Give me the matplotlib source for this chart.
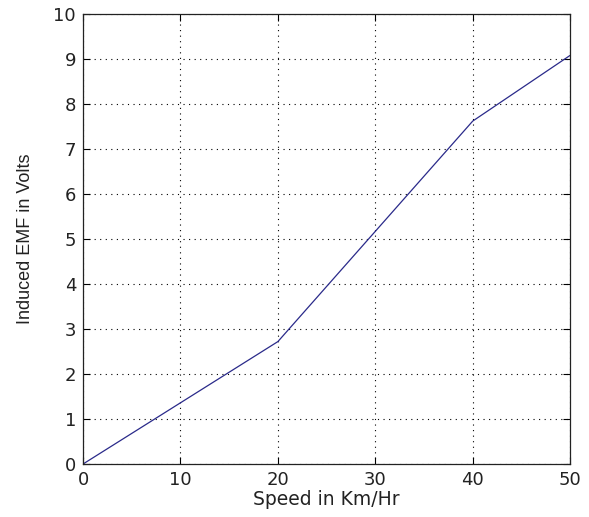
import matplotlib
matplotlib.use("Agg")
import matplotlib.pyplot as plt

# speed (km/hr) vs induced emf (volts)
speed = [0, 20, 40, 50]
emf = [0, 2.72, 7.62, 9.08]

xticks = [0, 10, 20, 30, 40, 50]
yticks = list(range(0, 11))

plt.rcParams['font.family'] = ['DejaVu Sans']

fig = plt.figure(figsize=(5.89, 5.17), dpi=100)
ax = fig.add_axes([0.141, 0.1025, 0.827, 0.8705])

ax.plot(speed, emf, color='#2a2a8a', linewidth=0.9)

ax.set_xlim(0, 50)
ax.set_ylim(0, 10)
ax.set_xticks(xticks)
ax.set_yticks(yticks)
ax.tick_params(direction='in', top=True, right=True, length=5, width=0.8,
               labelsize=13, pad=5, labelcolor='#222222')
ax.grid(True, color='black', linestyle=(0, (1, 4)), linewidth=0.8)
for s in ax.spines.values():
    s.set_linewidth(0.9)
    s.set_color('#222222')

ax.set_xlabel('Speed in Km/Hr', fontsize=13.5, labelpad=1, color='#222222')
ax.set_ylabel('Induced EMF in Volts', fontsize=13, labelpad=14,
              family='Liberation Sans', color='#222222')

fig.savefig('out.png', dpi=100)
